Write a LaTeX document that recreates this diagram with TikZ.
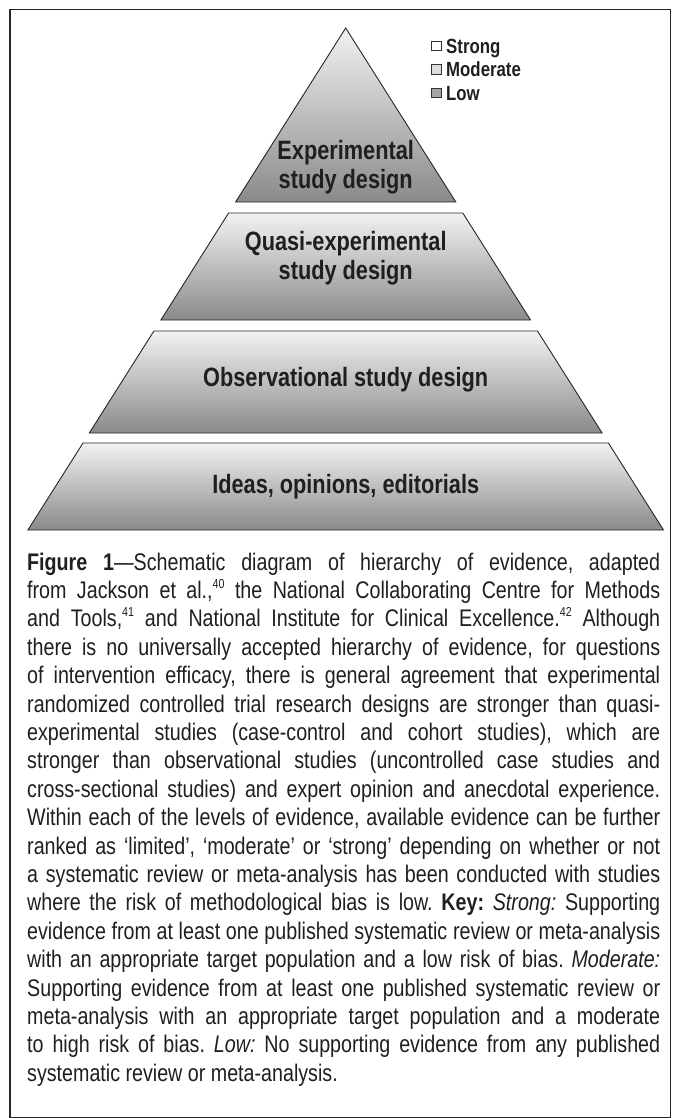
\documentclass[tikz,border=0pt]{standalone}
\usepackage{fontspec}
\setmainfont{Liberation Sans}[FakeStretch=0.82]
\definecolor{bandtop}{HTML}{F2F2F2}
\definecolor{bandbot}{HTML}{8A8A8A}
\definecolor{legmod}{HTML}{DCDCDC}
\definecolor{leglow}{HTML}{A4A4A4}
\newcommand{\mysup}[1]{\raisebox{0.42em}{\fontsize{13}{13}\selectfont #1}}
\tolerance=10000
\hbadness=10000
\hyphenpenalty=10000
\frenchspacing
\begin{document}
\begin{tikzpicture}[x=1pt,y=-1pt,
  band/.style={draw=black!85, line width=0.9pt, top color=bandtop, bottom color=bandbot},
  lbl/.style={font=\fontsize{26.5}{29}\selectfont\bfseries, align=center, inner sep=0pt, text=black!88},
  legtxt/.style={font=\fontsize{20.5}{23}\selectfont\bfseries, inner sep=0pt, anchor=base west, text=black!88},
  legbox/.style={draw=black!80, line width=0.8pt, minimum size=9.5pt, inner sep=0pt},
  captxt/.style={font=\fontsize{24}{28.4}\selectfont\frenchspacing, text width=633pt, align=justify, inner sep=0pt, anchor=north west, text=black!88}
]
\useasboundingbox (0,0) rectangle (672,1118);
% frame
\draw[line width=1.3pt, black!85] (10,9.5) rectangle (670.5,1117.5);
% pyramid bands
\coordinate (apex) at (345.7,28);
\draw[band] (apex) -- (455.8,202) -- (235.6,202) -- cycle;
\draw[band] (228.6,213) -- (462.8,213) -- (530.5,320) -- (160.9,320) -- cycle;
\draw[band] (153.9,331) -- (537.5,331) -- (602.1,433) -- (89.3,433) -- cycle;
\draw[band] (83.0,443) -- (608.4,443) -- (663.5,530) -- (27.9,530) -- cycle;
% labels
\node[lbl] (exp) at (345.7,167) {Experimental\\study design};
\node[lbl] (quasi) at (345.7,258) {Quasi-experimental\\study design};
\node[lbl] (obs) at (345.7,380) {Observational study design};
\node[lbl] (ideas) at (345.7,487) {Ideas, opinions, editorials};
% legend
\node[legbox, fill=white] (bs) at (436.5,46) {};
\node[legbox, fill=legmod] (bm) at (436.5,69.5) {};
\node[legbox, fill=leglow] (bl) at (436.5,93) {};
\node[legtxt] (ls) at (446,53.3) {Strong};
\node[legtxt] (lm) at (446,76.8) {Moderate};
\node[legtxt] (ll) at (446,100.3) {Low};
% caption
\node[captxt] (cap) at (27,552.5) {\textbf{Figure 1}—Schematic diagram of hierarchy of evidence, adapted\linebreak
from Jackson et al.,\mysup{40} the National Collaborating Centre for Methods\linebreak
and Tools,\mysup{41} and National Institute for Clinical Excellence.\mysup{42} Although\linebreak
there is no universally accepted hierarchy of evidence, for questions\linebreak
of intervention efficacy, there is general agreement that experimental\linebreak
randomized controlled trial research designs are stronger than quasi-\linebreak
experimental studies (case-control and cohort studies), which are\linebreak
stronger than observational studies (uncontrolled case studies and\linebreak
cross-sectional studies) and expert opinion and anecdotal experience.\linebreak
Within each of the levels of evidence, available evidence can be further\linebreak
ranked as ‘limited’, ‘moderate’ or ‘strong’ depending on whether or not\linebreak
a systematic review or meta-analysis has been conducted with studies\linebreak
where the risk of methodological bias is low. \textbf{Key:} \textit{Strong:} Supporting\linebreak
evidence from at least one published systematic review or meta-analysis\linebreak
with an appropriate target population and a low risk of bias. \textit{Moderate:}\linebreak
Supporting evidence from at least one published systematic review or\linebreak
meta-analysis with an appropriate target population and a moderate\linebreak
to high risk of bias. \textit{Low:} No supporting evidence from any published\linebreak
systematic review or meta-analysis.};
\end{tikzpicture}
\end{document}
